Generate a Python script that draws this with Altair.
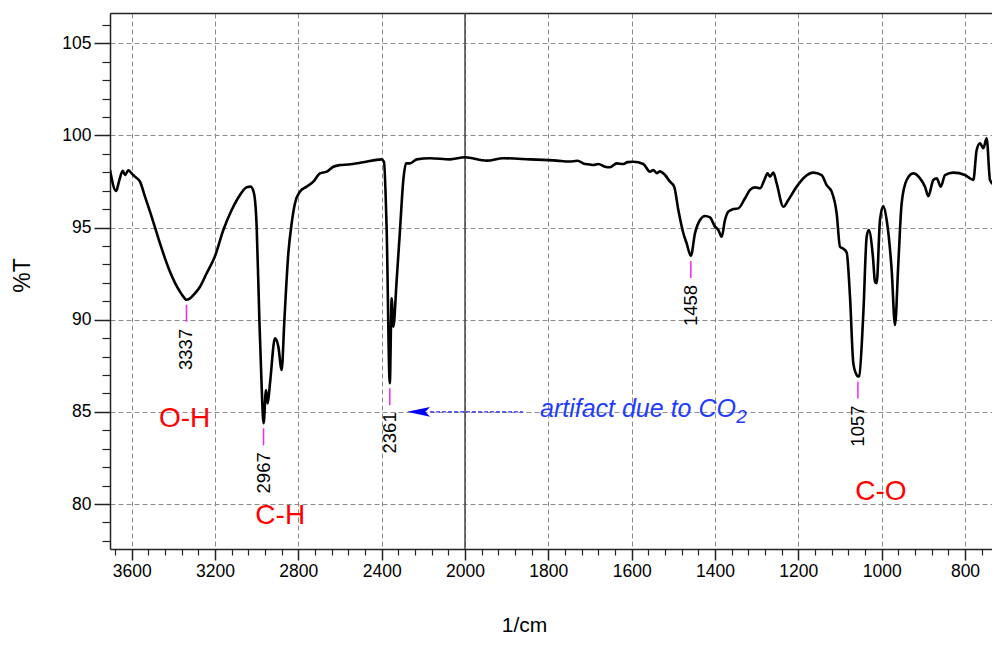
import altair as alt
import pandas as pd

# ---- spectrum (wavenumber in 1/cm, transmittance in %T) ----
wavenumber = [
    3704, 3675, 3661, 3643, 3632, 3616, 3600, 3584, 3560, 3536, 3512, 3488, 3464,
    3440, 3416, 3392, 3368, 3352, 3337, 3320, 3296, 3272, 3240, 3200, 3160, 3120,
    3080, 3048, 3029, 3013, 3000, 2987, 2976, 2967,
    2955, 2947, 2936, 2912, 2896, 2880, 2867, 2848, 2832, 2816, 2792, 2760, 2728,
    2696, 2664, 2632, 2600, 2560, 2488, 2400, 2389, 2376, 2361, 2352, 2344, 2328,
    2312, 2296, 2283, 2264, 2232, 2168, 2072, 2000,
    1948, 1908, 1844, 1780, 1750, 1730, 1716, 1700, 1692, 1680, 1664, 1652, 1636,
    1620, 1610, 1596, 1572, 1556, 1548, 1540, 1532, 1520, 1508, 1498, 1488, 1476,
    1468, 1458, 1448, 1436, 1424, 1412, 1400, 1392, 1384, 1376, 1368, 1356, 1344,
    1328, 1316, 1304, 1292, 1280, 1274, 1268, 1260, 1252, 1236, 1224, 1204, 1184,
    1164, 1144, 1132, 1120, 1108, 1100, 1092, 1084, 1076, 1068, 1060, 1057, 1054,
    1044, 1036, 1031, 1021, 1016, 1012, 1004, 996, 988, 976, 968, 960, 952, 940,
    924, 908, 896, 888, 876, 868, 858, 848, 828, 800, 780, 772, 764, 756, 748, 740,
    728, 720, 716,
]
transmittance = [
    98.12, 96.98, 97.49, 98.08, 97.85, 98.10, 97.94, 97.76, 97.49, 96.68, 95.86, 95.01, 94.14,
    93.33, 92.60, 92.00, 91.52, 91.25, 91.08, 91.16, 91.43, 91.79, 92.52, 93.45, 94.87, 95.95,
    96.77, 97.19, 97.22, 96.86, 95.05, 89.98, 86.37, 84.38,
    86.19, 85.46, 86.55, 88.99, 88.54, 87.27, 89.98, 93.60, 95.23, 96.32, 96.95, 97.22, 97.49,
    97.94, 98.03, 98.30, 98.39, 98.42, 98.54, 98.70, 98.57, 94.87, 86.55, 91.16, 89.62, 92.15,
    94.87, 97.58, 98.48, 98.48, 98.70, 98.76, 98.70, 98.81,
    98.63, 98.76, 98.70, 98.63, 98.58, 98.62, 98.48, 98.42, 98.39, 98.45, 98.30, 98.27, 98.48,
    98.45, 98.55, 98.57, 98.45, 98.03, 98.12, 97.95, 98.05, 97.85, 97.49, 97.22, 95.95, 94.69,
    94.14, 93.46, 94.69, 95.41, 95.63, 95.55, 95.05, 94.87, 94.50, 95.41, 95.86, 96.00, 96.04,
    96.59, 97.04, 97.18, 97.13, 97.67, 97.94, 97.76, 97.98, 97.40, 96.13, 96.50, 97.22, 97.76,
    97.98, 97.85, 97.30, 96.95, 95.77, 93.96, 93.85, 93.65, 91.25, 87.63, 87.00, 86.92, 86.95,
    90.35, 94.50, 94.87, 93.42, 92.06, 91.98, 95.41, 96.17, 95.41, 92.70, 89.71, 93.06, 96.32, 97.58,
    97.94, 97.67, 97.22, 96.70, 97.58, 97.67, 97.22, 97.85, 97.98, 97.85, 97.58, 99.21, 99.57, 99.30, 99.84, 97.58,
    97.22, 96.77, 96.66,
]

# ---- peak picks ----
peak_wn = [3337, 2967, 2361, 1458, 1057]
peak_t = [91.08, 84.38, 86.55, 93.46, 86.92]
peak_label = ["3337", "2967", "2361", "1458", "1057"]

# ---- band assignments ----
band_label = ["O-H", "C-H", "C-O"]
band_wn = [3346, 2887, 1002]
band_t = [84.6, 79.35, 80.65]

# ---- CO2 note ----
note_text = ["artifact due to CO"]
note_wn = [1820]
note_sub = ["2"]
note_sub_wn = [1349]
note_t = [85]
arrow_head_wn = [2223]
arrow_from_wn = [2168]
arrow_to_wn = [1861]

# ---- axis ticks ----
scale_break = [2000]
x_major = [3600, 3200, 2800, 2400, 2000, 1800, 1600, 1400, 1200, 1000, 800]
x_minor = [v for v in range(3680, 2000, -80) if v % 400 != 0] + \
          [v for v in range(1960, 735, -40) if v % 200 != 0]
y_major = [80, 85, 90, 95, 100, 105]
y_minor = [v for v in range(78, 107) if v % 5 != 0]

FONT = "Liberation Sans"
AX = "#222222"

spec = pd.DataFrame({"wn": wavenumber, "t": transmittance})
peaks = pd.DataFrame({"wn": peak_wn, "t": peak_t, "label": peak_label})
bands = pd.DataFrame({"wn": band_wn, "t": band_t, "label": band_label})
note = pd.DataFrame({"wn": note_wn, "t": note_t, "label": note_text})
note2 = pd.DataFrame({"wn": note_sub_wn, "t": note_t, "label": note_sub})
head = pd.DataFrame({"wn": arrow_head_wn, "t": note_t})
shaft = pd.DataFrame({"wn": arrow_from_wn, "wn2": arrow_to_wn, "t": note_t})
brk = pd.DataFrame({"wn": scale_break})

xscale = alt.Scale(domain=[3704, 2000, 735.2], range=[0, 355, 882], nice=False, zero=False)
yscale = alt.Scale(domain=[77.56, 106.64], nice=False, zero=False)

x_main_axis = alt.Axis(
    orient="bottom", values=x_major, format="d", grid=True, gridDash=[5, 3],
    gridColor="#8c8c8c", gridWidth=1, tickSize=11, tickColor=AX, tickWidth=1.5,
    domainColor=AX, domainWidth=1.5, labelFontSize=17.5, labelColor="black",
    labelPadding=2, labelFlush=False, labelOverlap=False,
    title="1/cm", titleFontSize=21, titleFontWeight="normal", titleColor="black",
    titleX=414, titleY=82, titleBaseline="alphabetic", titleAlign="center",
)
x_minor_axis = alt.Axis(
    orient="bottom", values=x_minor, grid=False, labels=False, domain=False,
    tickSize=6, tickColor=AX, tickWidth=1.2, title=None,
)
x_top_axis = alt.Axis(
    orient="top", grid=False, labels=False, ticks=False, domain=True,
    domainColor=AX, domainWidth=1.5, title=None,
)
y_main_axis = alt.Axis(
    orient="left", values=y_major, format="d", grid=True, gridDash=[5, 3],
    gridColor="#8c8c8c", gridWidth=1, tickSize=16, tickColor=AX, tickWidth=1.5,
    domainColor=AX, domainWidth=1.5, labelFontSize=17.5, labelColor="black",
    labelPadding=3, labelOverlap=False,
    title="%T", titleFontSize=23, titleFontWeight="normal", titleColor="black",
    titleX=-88, titleY=262, titleAngle=270, titleBaseline="middle", titleAlign="center",
)
y_minor_axis = alt.Axis(
    orient="left", values=y_minor, grid=False, labels=False, domain=False,
    tickSize=8, tickColor=AX, tickWidth=1.2, title=None,
)

break_rule = alt.Chart(brk).mark_rule(color="#444444", strokeWidth=1.5).encode(
    x=alt.X("wn:Q", scale=xscale, axis=None)
)

line = alt.Chart(spec).mark_line(
    color="black", strokeWidth=2.6, clip=True, interpolate="monotone"
).encode(
    x=alt.X("wn:Q", scale=xscale, axis=x_main_axis),
    y=alt.Y("t:Q", scale=yscale, axis=y_main_axis),
    order=alt.Order("wn:Q", sort="descending"),
)

peak_ticks = alt.Chart(peaks).mark_rule(
    color="#f028f0", strokeWidth=1.5, yOffset=5, y2Offset=22
).encode(
    x=alt.X("wn:Q", scale=xscale, axis=x_minor_axis),
    y=alt.Y("t:Q", scale=yscale, axis=y_minor_axis),
    y2="t:Q",
)

peak_text = alt.Chart(peaks).mark_text(
    angle=270, align="right", baseline="middle", yOffset=29,
    fontSize=18.5, color="black",
).encode(
    x=alt.X("wn:Q", scale=xscale, axis=None),
    y=alt.Y("t:Q", scale=yscale, axis=None),
    text="label:N",
)

band_text = alt.Chart(bands).mark_text(
    align="center", baseline="middle", fontSize=28, color="#ff0000",
).encode(
    x=alt.X("wn:Q", scale=xscale, axis=x_top_axis),
    y=alt.Y("t:Q", scale=yscale, axis=None),
    text="label:N",
)

shaft_rule = alt.Chart(shaft).mark_rule(
    color="#0000ff", strokeWidth=1, strokeDash=[4, 2]
).encode(
    x=alt.X("wn:Q", scale=xscale, axis=None),
    x2="wn2:Q",
    y=alt.Y("t:Q", scale=yscale, axis=None),
)

head_pt = alt.Chart(head).mark_point(
    shape="M-1,0 L1,-0.42 L0.6,0 L1,0.42 Z", size=529, filled=True,
    color="#0000ff", opacity=1, strokeWidth=0,
).encode(
    x=alt.X("wn:Q", scale=xscale, axis=None),
    y=alt.Y("t:Q", scale=yscale, axis=None),
)

note_main = alt.Chart(note).mark_text(
    align="left", baseline="alphabetic", yOffset=5.5, fontSize=25,
    fontStyle="italic", color="#1f3cff",
).encode(
    x=alt.X("wn:Q", scale=xscale, axis=None),
    y=alt.Y("t:Q", scale=yscale, axis=None),
    text="label:N",
)

note_subscript = alt.Chart(note2).mark_text(
    align="left", baseline="alphabetic", yOffset=11.5, fontSize=19,
    fontStyle="italic", color="#1f3cff",
).encode(
    x=alt.X("wn:Q", scale=xscale, axis=None),
    y=alt.Y("t:Q", scale=yscale, axis=None),
    text="label:N",
)

chart = alt.layer(
    break_rule, line, peak_ticks, peak_text, band_text,
    shaft_rule, head_pt, note_main, note_subscript,
).resolve_axis(
    x="independent", y="independent"
).properties(
    width=882, height=536,
    autosize=alt.AutoSizeParams(type="none"),
    padding={"left": 102, "top": 5, "right": 0, "bottom": 88},
).configure_view(
    stroke=None
).configure_axis(
    labelFont=FONT, titleFont=FONT
).configure_text(
    font=FONT
)

chart.save("out.html", embed_options={"renderer": "svg", "actions": False})
